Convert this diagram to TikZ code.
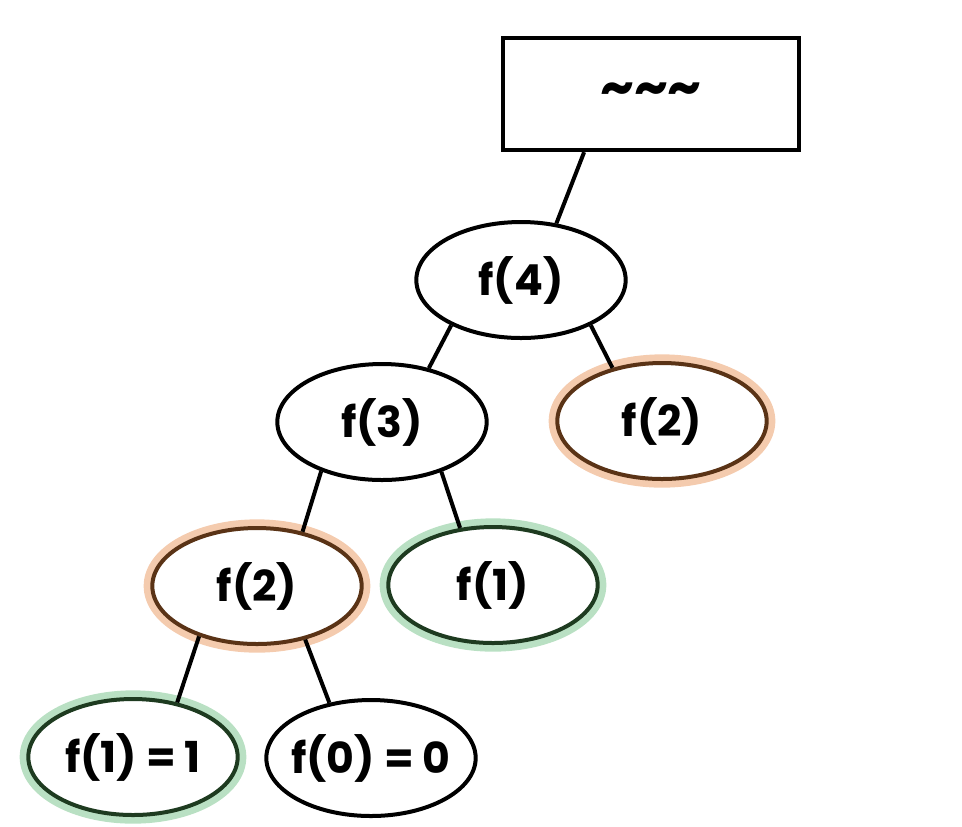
\documentclass[tikz,border=0pt]{standalone}
\usepackage{fontspec}
\setmainfont{Poppins}
\usetikzlibrary{shapes.geometric}

\definecolor{halopeach}{HTML}{F4CBAE}
\definecolor{halogreen}{HTML}{B9E0C3}
\definecolor{rimbrown}{HTML}{5A3316}
\definecolor{rimgreen}{HTML}{1E3B20}

\begin{document}
\begin{tikzpicture}[
  x=0.75pt, y=-0.75pt,
  font=\fontsize{32}{38}\selectfont\bfseries,
  call/.style={ellipse, draw=black, line width=3pt, fill=white,
               inner ysep=0pt, inner xsep=-12pt,
               minimum width=157pt, minimum height=87pt},
  repeated/.style={call, draw=rimbrown,
                   preaction={draw=halopeach, line width=13pt}},
  basecase/.style={call, draw=rimgreen,
                   preaction={draw=halogreen, line width=13pt}},
  caller/.style={rectangle, draw=black, line width=3.2pt, fill=white,
                 inner sep=0pt, minimum width=222pt, minimum height=84pt},
  link/.style={draw=black, line width=3pt},
]
\useasboundingbox (0,0) rectangle (962,826);

% top: the caller
\node[caller] (top) at (651,94) {\fontsize{40}{40}\selectfont\textasciitilde\textasciitilde\textasciitilde};

% recursion tree
\node[call] (f4) at (521,280) {f(4)};
\node[call] (f3) at (382,422) {f(3)};
\node[repeated] (f2r) at (662,421) {f(2)};
\node[repeated] (f2l) at (257,586) {f(2)};
\node[basecase] (f1) at (493,585) {f(1)};
\node[basecase] (f1b) at (133,757) {f(1) = 1};
\node[call] (f0) at (371,758) {f(0) = 0};

\draw[link] (top.-139) -- (f4.58);
\draw[link] (f4.213) -- (f3.49);
\draw[link] (f4.-33) -- (f2r.133);
\draw[link] (f3.219) -- (f2l.50);
\draw[link] (f3.-40) -- (f1.120);
\draw[link] (f2l.221) -- (f1b.51);
\draw[link] (f2l.-48) -- (f0.127);
\end{tikzpicture}
\end{document}
